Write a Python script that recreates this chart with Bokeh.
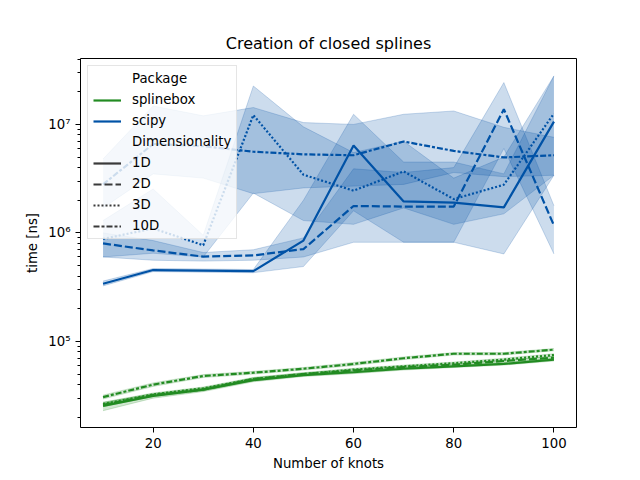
from bokeh.plotting import figure
from bokeh.models import Range1d, FixedTicker, Legend, LegendItem, ColumnDataSource
from bokeh.embed import file_html
from bokeh.resources import INLINE

knots = [10, 20, 30, 40, 50, 60, 70, 80, 90, 100]
dims = ["1D", "2D", "3D", "10D"]
packages = ["splinebox", "scipy"]

# splinebox (median, lower CI, upper CI) in ns
sb_1d = [2.55e4, 3.15e4, 3.6e4, 4.4e4, 4.9e4, 5.2e4, 5.6e4, 5.9e4, 6.2e4, 6.8e4]
sb_1d_lo = [2.3e4, 3.0e4, 3.45e4, 4.25e4, 4.75e4, 5.05e4, 5.45e4, 5.75e4, 6.05e4, 6.6e4]
sb_1d_hi = [2.75e4, 3.3e4, 3.75e4, 4.55e4, 5.05e4, 5.35e4, 5.75e4, 6.05e4, 6.35e4, 7.0e4]
sb_2d = [2.6e4, 3.2e4, 3.6e4, 4.5e4, 5.0e4, 5.4e4, 5.8e4, 6.1e4, 6.6e4, 7.1e4]
sb_2d_lo = [2.5e4, 3.1e4, 3.5e4, 4.35e4, 4.85e4, 5.25e4, 5.65e4, 5.95e4, 6.4e4, 6.9e4]
sb_2d_hi = [2.7e4, 3.3e4, 3.7e4, 4.65e4, 5.15e4, 5.55e4, 5.95e4, 6.25e4, 6.8e4, 7.3e4]
sb_3d = [2.65e4, 3.25e4, 3.7e4, 4.5e4, 5.0e4, 5.5e4, 5.9e4, 6.3e4, 6.8e4, 7.5e4]
sb_3d_lo = [2.55e4, 3.15e4, 3.6e4, 4.35e4, 4.85e4, 5.35e4, 5.75e4, 6.15e4, 6.6e4, 7.3e4]
sb_3d_hi = [2.75e4, 3.35e4, 3.8e4, 4.65e4, 5.15e4, 5.65e4, 6.05e4, 6.45e4, 7.0e4, 7.7e4]
sb_10d = [3.07e4, 4.0e4, 4.8e4, 5.15e4, 5.6e4, 6.2e4, 7.0e4, 7.7e4, 7.7e4, 8.4e4]
sb_10d_lo = [2.95e4, 3.85e4, 4.65e4, 5.0e4, 5.45e4, 6.0e4, 6.8e4, 7.5e4, 7.5e4, 8.2e4]
sb_10d_hi = [3.2e4, 4.15e4, 4.95e4, 5.3e4, 5.75e4, 6.4e4, 7.2e4, 7.9e4, 7.9e4, 8.6e4]

# scipy (median, lower CI, upper CI) in ns
sp_1d = [3.4e5, 4.55e5, 4.5e5, 4.45e5, 8.5e5, 6.4e6, 1.95e6, 1.9e6, 1.72e6, 1.06e7]
sp_1d_lo = [3.25e5, 4.4e5, 4.35e5, 4.3e5, 4.9e5, 1.6e6, 8.2e5, 8.2e5, 6.4e5, 3.4e6]
sp_1d_hi = [3.6e5, 4.7e5, 4.65e5, 4.6e5, 2.0e6, 1.24e7, 4.5e6, 4.5e6, 3.5e6, 2.8e7]
sp_2d = [8.0e5, 6.9e5, 6.05e5, 6.2e5, 7.1e5, 1.77e6, 1.75e6, 1.75e6, 1.38e7, 1.17e6]
sp_2d_lo = [6.0e5, 5.6e5, 5.5e5, 5.6e5, 6.0e5, 8.2e5, 8.2e5, 8.2e5, 6.0e6, 6.4e5]
sp_2d_hi = [1.0e6, 8.5e5, 6.6e5, 7.0e5, 9.0e5, 3.9e6, 3.6e6, 4.0e6, 2.43e7, 1.78e6]
sp_3d = [8.8e5, 1.1e6, 7.7e5, 1.22e7, 3.44e6, 2.45e6, 3.69e6, 2.05e6, 2.78e6, 1.26e7]
sp_3d_lo = [6.0e5, 6.5e5, 6.0e5, 2.33e6, 1.3e6, 1.2e6, 1.7e6, 1.2e6, 1.5e6, 3.4e6]
sp_3d_hi = [1.3e6, 2.54e6, 9.5e5, 2.26e7, 9.5e6, 5.5e6, 7.0e6, 3.2e6, 5.0e6, 2.8e7]
sp_10d = [2.8e6, 6.6e6, 6.3e6, 5.6e6, 5.3e6, 5.2e6, 6.96e6, 5.7e6, 4.96e6, 5.2e6]
sp_10d_lo = [1.7e6, 3.5e6, 3.2e6, 2.3e6, 2.6e6, 2.7e6, 2.8e6, 3.6e6, 3.3e6, 3.4e6]
sp_10d_hi = [4.8e6, 1.48e7, 1.2e7, 1.43e7, 1.04e7, 1.0e7, 1.24e7, 1.33e7, 9.4e6, 7.6e6]

series = {
    ("splinebox", "1D"): (sb_1d, sb_1d_lo, sb_1d_hi),
    ("splinebox", "2D"): (sb_2d, sb_2d_lo, sb_2d_hi),
    ("splinebox", "3D"): (sb_3d, sb_3d_lo, sb_3d_hi),
    ("splinebox", "10D"): (sb_10d, sb_10d_lo, sb_10d_hi),
    ("scipy", "1D"): (sp_1d, sp_1d_lo, sp_1d_hi),
    ("scipy", "2D"): (sp_2d, sp_2d_lo, sp_2d_hi),
    ("scipy", "3D"): (sp_3d, sp_3d_lo, sp_3d_hi),
    ("scipy", "10D"): (sp_10d, sp_10d_lo, sp_10d_hi),
}

colors = {"splinebox": "#228b22", "scipy": "#0052a6"}
dashes = {"1D": "solid", "2D": "8 3", "3D": "2 2", "10D": "6 2 3 2"}

FONT = "DejaVu Sans"

p = figure(width=640, height=480, output_backend="svg", toolbar_location=None,
           y_axis_type="log", x_range=Range1d(5.5, 104.5), y_range=Range1d(1.61e4, 4.05e7),
           min_border_left=80, min_border_right=64, min_border_top=58, min_border_bottom=53,
           title="Creation of closed splines")
p.background_fill_color = "white"
p.border_fill_color = "white"
p.grid.visible = False
p.outline_line_color = "black"
p.outline_line_alpha = 1.0
p.outline_line_width = 1

p.title.text_font = FONT
p.title.text_font_size = "16px"
p.title.text_font_style = "normal"
p.title.align = "center"
p.title.text_color = "black"
p.title.standoff = 12

for pkg in packages:
    for d in dims:
        med, lo, hi = series[(pkg, d)]
        p.varea(x=knots, y1=lo, y2=hi, fill_color=colors[pkg], fill_alpha=0.2)
        p.line(x=knots, y=lo, line_color=colors[pkg], line_alpha=0.2, line_width=1)
        p.line(x=knots, y=hi, line_color=colors[pkg], line_alpha=0.2, line_width=1)
for pkg in packages:
    for d in dims:
        med, lo, hi = series[(pkg, d)]
        p.line(x=knots, y=med, line_color=colors[pkg], line_width=2.2, line_dash=dashes[d])

# axes
p.xaxis.ticker = FixedTicker(ticks=[20, 40, 60, 80, 100])
p.xaxis.axis_label = "Number of knots"
decades = [1e4, 1e5, 1e6, 1e7]
minor = [m * dcd for dcd in decades for m in range(2, 10)]
p.yaxis.ticker = FixedTicker(ticks=[1e5, 1e6, 1e7], minor_ticks=minor)
p.yaxis.major_label_overrides = {1e5: "10⁵", 1e6: "10⁶", 1e7: "10⁷"}
p.yaxis.axis_label = "time [ns]"
for ax in (p.xaxis[0], p.yaxis[0]):
    ax.axis_line_color = None
    ax.major_tick_in = 0
    ax.major_tick_out = 5
    ax.minor_tick_in = 0
    ax.minor_tick_out = 3
    ax.major_tick_line_color = "black"
    ax.minor_tick_line_color = "black"
    ax.major_label_text_font = FONT
    ax.major_label_text_font_size = "13.3px"
    ax.major_label_text_color = "black"
    ax.axis_label_text_font = FONT
    ax.axis_label_text_font_size = "13.3px"
    ax.axis_label_text_font_style = "normal"
    ax.axis_label_text_color = "black"
p.xaxis.minor_tick_out = 0
p.yaxis.major_label_orientation = "horizontal"

# legend (proxy renderers placed outside the visible x range)
def dummy(color, dash="solid", alpha=1.0):
    src = ColumnDataSource(data=dict(x=[-50, -40], y=[1e6, 1e6]))
    return p.line(x="x", y="y", source=src, line_color=color, line_dash=dash,
                  line_width=2.2, line_alpha=alpha)

items = [
    LegendItem(label="Package", renderers=[dummy("white", alpha=0.0)]),
    LegendItem(label="splinebox", renderers=[dummy(colors["splinebox"])]),
    LegendItem(label="scipy", renderers=[dummy(colors["scipy"])]),
    LegendItem(label="Dimensionality", renderers=[dummy("white", alpha=0.0)]),
]
for d in dims:
    items.append(LegendItem(label=d, renderers=[dummy("#3a3a3a", dashes[d])]))

legend = Legend(items=items, location="top_left", margin=7, padding=5,
                spacing=6, label_height=14, glyph_height=14, glyph_width=28,
                label_standoff=11, label_text_font=FONT, label_text_font_size="13.3px",
                label_text_color="black", background_fill_color="white",
                background_fill_alpha=0.8, border_line_color="#cccccc",
                border_line_width=1)
p.add_layout(legend, "center")

open("out.html", "w").write(file_html(p, INLINE))
